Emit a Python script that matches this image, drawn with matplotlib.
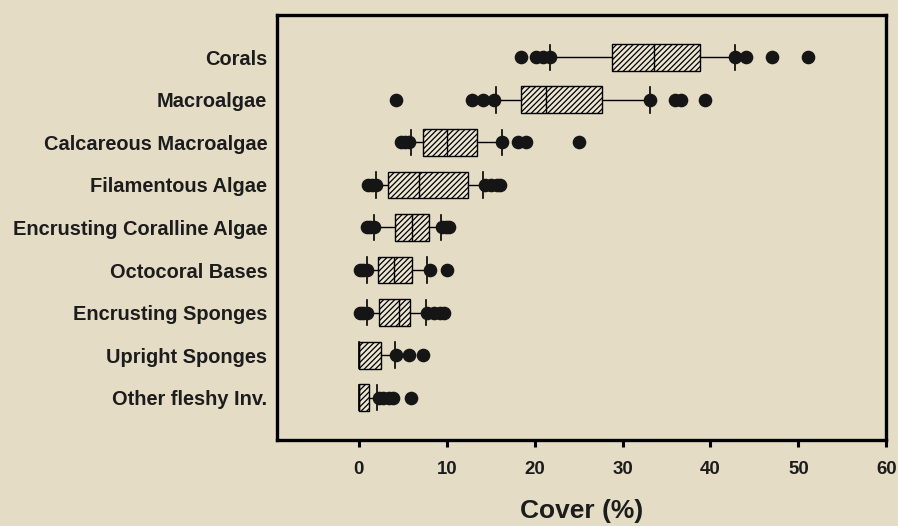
import numpy as np
import matplotlib
matplotlib.use("Agg")
import matplotlib.pyplot as plt

# kategorie od góry do dołu
kategorie = ["Corals", "Macroalgae", "Calcareous Macroalgae", "Filamentous Algae",
             "Encrusting Coralline Algae", "Octocoral Bases", "Encrusting Sponges",
             "Upright Sponges", "Other fleshy Inv."]

q1 = [28.8, 18.4, 7.3, 3.3, 4.1, 2.2, 2.3, 0.0, 0.0]
mediana = [33.6, 21.3, 10.0, 6.9, 6.1, 4.05, 4.6, 0.0, 0.0]
q3 = [38.8, 27.7, 13.5, 12.4, 7.95, 6.1, 5.8, 2.5, 1.2]
wasy_dol = [21.8, 15.6, 5.9, 2.0, 1.7, 0.9, 0.9, 0.0, 0.0]
wasy_gora = [42.8, 33.1, 16.3, 14.1, 9.4, 7.8, 7.6, 4.1, 2.05]

odstajace = [
    [18.4, 20.2, 20.9, 21.8, 42.8, 44.0, 47.0, 51.1],
    [4.2, 12.9, 14.1, 15.4, 33.1, 36.0, 36.7, 39.4],
    [4.8, 5.3, 5.7, 16.3, 18.1, 19.0, 25.1],
    [1.0, 1.5, 2.0, 14.4, 15.0, 15.7, 16.1],
    [0.9, 1.3, 1.7, 9.5, 9.9, 10.3],
    [0.1, 0.5, 0.9, 8.1, 10.0],
    [0.1, 0.5, 0.9, 7.75, 8.5, 9.2, 9.7],
    [4.2, 5.7, 7.3],
    [2.25, 2.8, 3.4, 3.9, 5.9],
]

tlo = "#e4dcc5"
tekst = "#1c1c1c"

statystyki = []
for i in range(len(kategorie)):
    statystyki.append({
        "label": kategorie[i],
        "q1": q1[i], "med": mediana[i], "q3": q3[i],
        "whislo": wasy_dol[i], "whishi": wasy_gora[i],
        "fliers": odstajace[i],
    })

plt.rcParams["font.family"] = ["Liberation Sans", "DejaVu Sans"]
plt.rcParams["font.weight"] = "bold"
plt.rcParams["hatch.linewidth"] = 0.9

fig = plt.figure(figsize=(8.98, 5.26), dpi=100)
fig.patch.set_facecolor(tlo)
ax = fig.add_axes([0.3085, 0.163, 0.6785, 0.809])
ax.set_facecolor(tlo)

pozycje = np.arange(len(kategorie))
wynik = ax.bxp(statystyki, positions=pozycje, vert=False, widths=0.63, capwidths=0.6,
               patch_artist=True, showfliers=True,
               boxprops=dict(facecolor="#ece6d3", edgecolor="black", linewidth=1.0, hatch="//////"),
               medianprops=dict(color="black", linewidth=1.0),
               whiskerprops=dict(color="black", linewidth=1.0),
               capprops=dict(color="black", linewidth=1.2),
               flierprops=dict(marker="o", markerfacecolor="#151515", markeredgecolor="#151515",
                               markersize=8.8, linestyle="none"))

ax.set_xlim(-9.3, 60)
ax.set_ylim(9.0, -1.0)
ax.set_xticks([0, 10, 20, 30, 40, 50, 60])
ax.set_yticks(pozycje)
ax.set_yticklabels(kategorie, fontsize=14.4, fontweight="bold", color=tekst)
ax.tick_params(axis="y", length=0, pad=7)
ax.tick_params(axis="x", direction="out", length=5, width=2.2, pad=10, labelsize=13.4,
               labelcolor=tekst)
for etykieta in ax.get_xticklabels():
    etykieta.set_fontweight("bold")
for s in ax.spines.values():
    s.set_linewidth(2.4)

ax.set_xlabel("Cover (%)", fontsize=19, fontweight="bold", labelpad=15, color=tekst)

fig.savefig("out.png", dpi=100, facecolor=tlo)
